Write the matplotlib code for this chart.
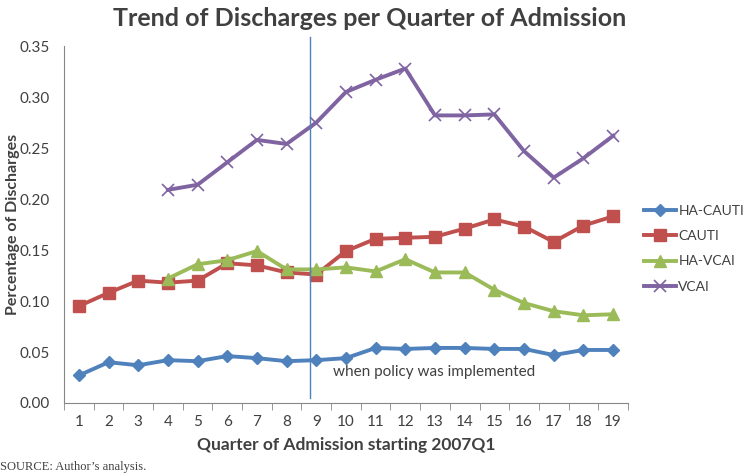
import matplotlib.pyplot as plt
import numpy as np

plt.rcParams['font.family'] = ['Lato', 'DejaVu Sans']

quarters = np.arange(1, 20)
ha_cauti = [0.027, 0.040, 0.037, 0.042, 0.041, 0.046, 0.044, 0.041, 0.042, 0.044,
            0.054, 0.053, 0.054, 0.054, 0.053, 0.053, 0.047, 0.052, 0.052]
cauti = [0.095, 0.108, 0.120, 0.118, 0.120, 0.137, 0.135, 0.128, 0.126, 0.149,
         0.161, 0.162, 0.163, 0.171, 0.180, 0.173, 0.158, 0.174, 0.183]
ha_vcai = [np.nan, np.nan, np.nan, 0.122, 0.136, 0.140, 0.149, 0.131, 0.131, 0.133,
           0.129, 0.141, 0.128, 0.128, 0.111, 0.098, 0.090, 0.086, 0.087]
vcai = [np.nan, np.nan, np.nan, 0.209, 0.214, 0.236, 0.258, 0.254, 0.275, 0.305,
        0.317, 0.328, 0.282, 0.282, 0.283, 0.247, 0.221, 0.240, 0.262]
policy_x = 8.78

fig = plt.figure(figsize=(7.44, 4.75), dpi=100)
ax = fig.add_axes([0.086, 0.1516, 0.758, 0.7514])

ax.plot(quarters, ha_cauti, color='#4F81BD', lw=2.8, marker='D', ms=6.5, label='HA-CAUTI')
ax.plot(quarters, cauti, color='#C0504D', lw=2.8, marker='s', ms=8, label='CAUTI')
ax.plot(quarters, ha_vcai, color='#9BBB59', lw=2.8, marker='^', ms=8.5, label='HA-VCAI')
ax.plot(quarters, vcai, color='#8064A2', lw=2.8, marker='x', ms=9, mew=1.2, label='VCAI')

# policy line, runs a bit above the plot area
ax.plot([policy_x, policy_x], [0.005, 0.359], color='#4F81BD', lw=1.0, clip_on=False)
ax.text(9.56, 0.030, 'when policy was implemented', fontsize=11, color='#404040', va='center')

ax.set_xlim(0.5, 19.5)
ax.set_ylim(0, 0.35)
ax.set_yticks(np.arange(0, 0.351, 0.05))
ax.set_yticklabels([f'{v:.2f}' for v in np.arange(0, 0.351, 0.05)])
ax.set_xticks(quarters)
ax.set_xticks(np.arange(0.5, 19.6, 1), minor=True)
ax.tick_params(axis='x', which='major', length=0, pad=9, labelsize=11, labelcolor='#404040')
ax.tick_params(axis='x', which='minor', length=5, color='#868686')
ax.tick_params(axis='y', length=0, pad=10, labelsize=11, labelcolor='#404040')

for s in ['top', 'right']:
    ax.spines[s].set_visible(False)
ax.spines['left'].set_color('#868686')
ax.spines['bottom'].set_color('#868686')

ax.set_xlabel('Quarter of Admission starting 2007Q1', fontsize=12.5, fontweight='bold', color='#404040')
ax.xaxis.set_label_coords(0.5, -0.095)
ax.set_ylabel('Percentage of Discharges', fontsize=11.5, fontweight='bold', color='#404040')
ax.yaxis.set_label_coords(-0.078, 0.5)

fig.text(0.497, 0.962, 'Trend of Discharges per Quarter of Admission', ha='center', va='center',
         fontsize=18, fontweight='bold', color='#404040')
fig.text(0.0, 0.017, 'SOURCE: Author\u2019s analysis.', fontsize=9, family='Liberation Serif',
         color='#404040', va='center')

fig.legend(loc='center left', bbox_to_anchor=(0.866, 0.476), frameon=False, fontsize=10,
           handlelength=2.3, labelspacing=0.95, handletextpad=0.15, borderpad=0,
           borderaxespad=0, labelcolor='#404040')

fig.savefig('out.png', dpi=100)
